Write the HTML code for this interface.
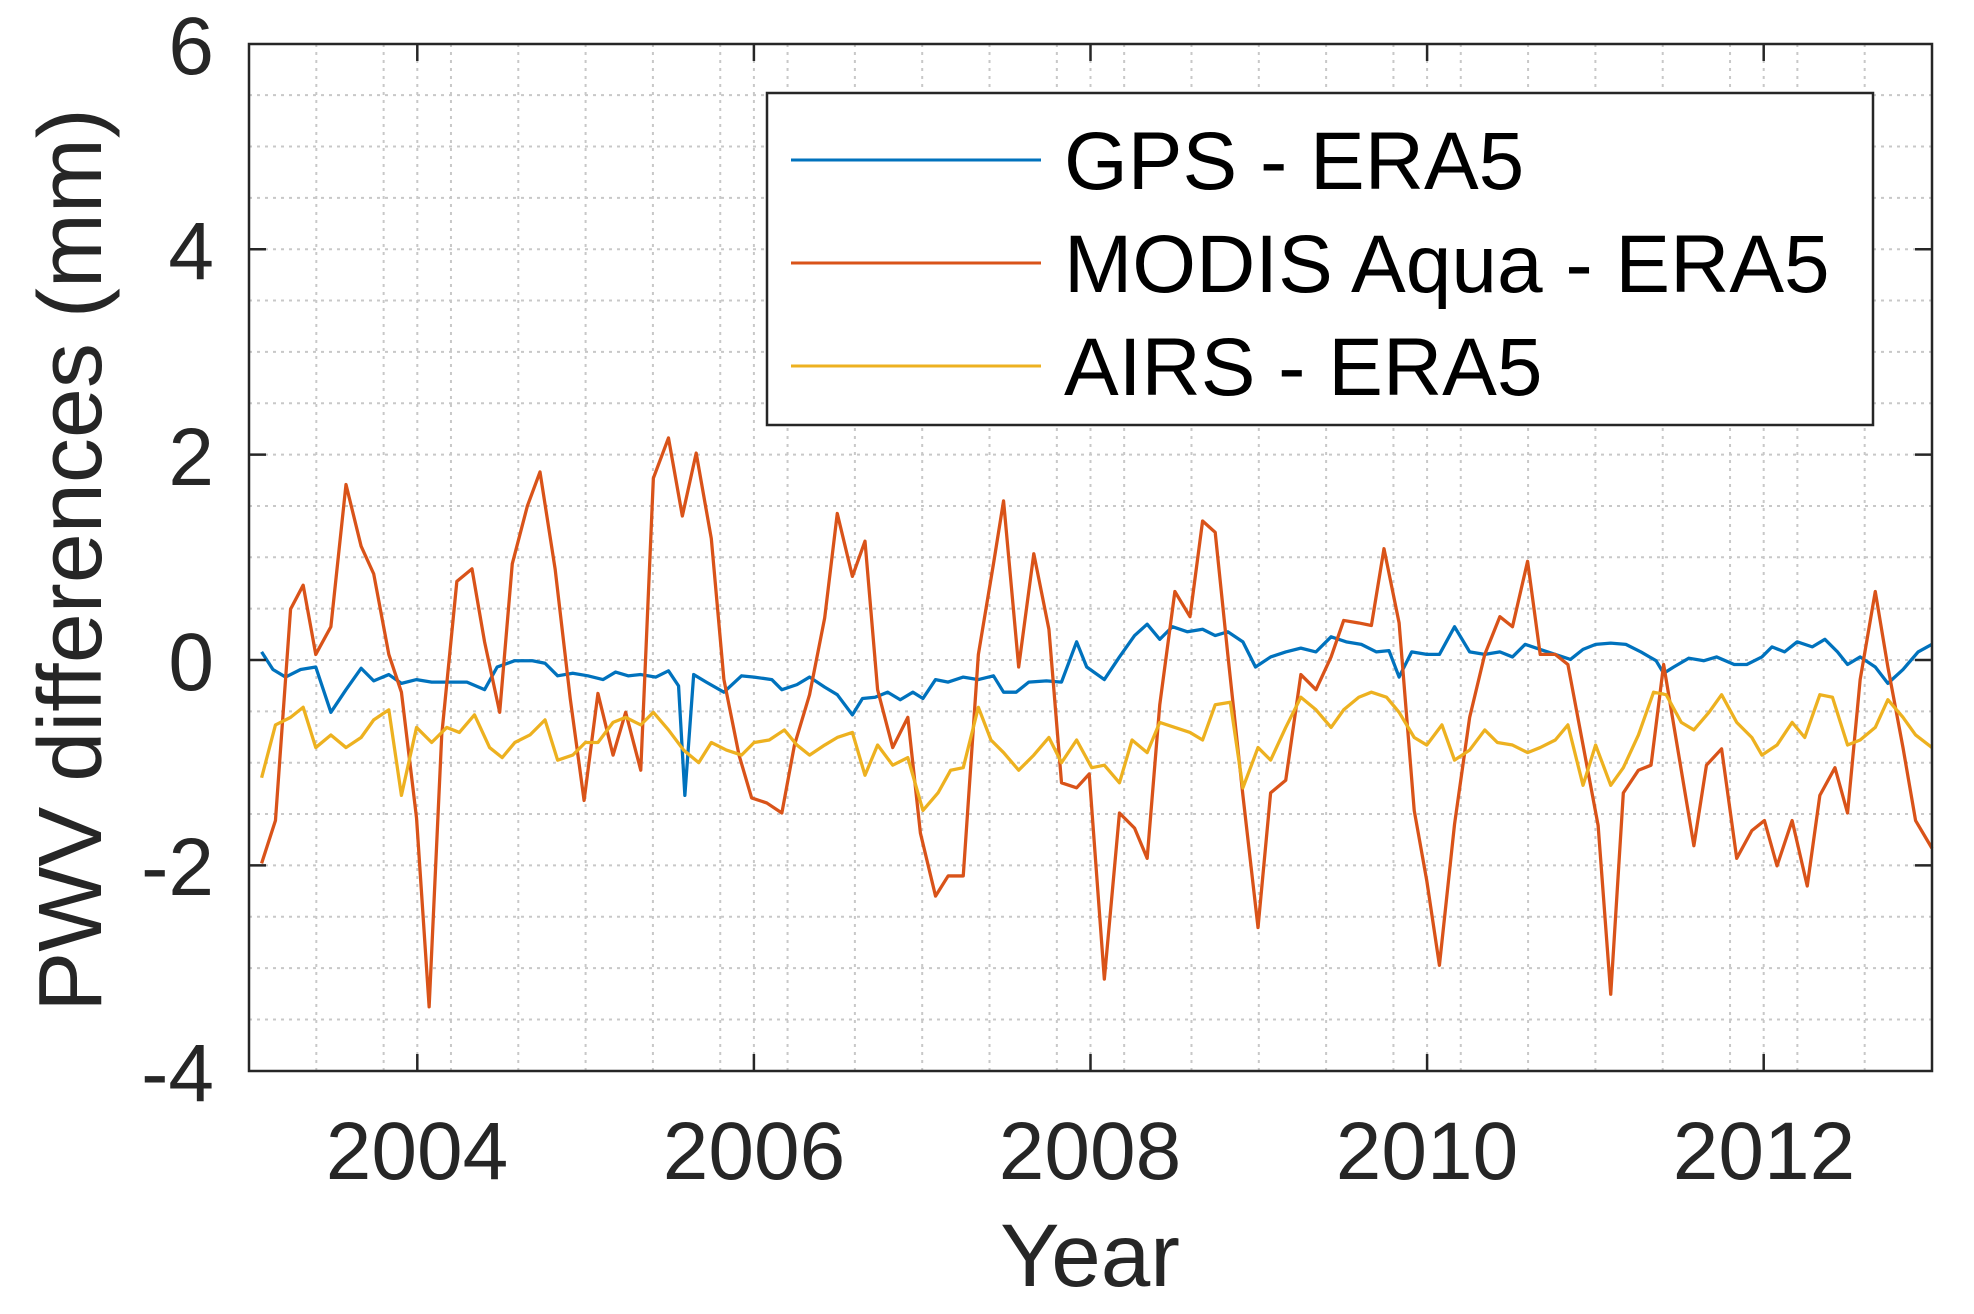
<!DOCTYPE html>
<html><head><meta charset="utf-8"><style>
html,body{margin:0;padding:0;background:#fff;}
svg{display:block;}
text{font-family:"Liberation Sans",Arial,sans-serif;fill:#262626;}
</style></head><body>
<svg width="1974" height="1314" viewBox="0 0 1974 1314" xmlns="http://www.w3.org/2000/svg">
<rect width="1974" height="1314" fill="#fff"/>
<g id="grid" stroke="#c8c8c8" stroke-width="2" stroke-dasharray="3,5" fill="none"></g>
<g id="series" transform="translate(249,44) scale(1.2597,1.2586) translate(-199,-35)" fill="none" stroke-linejoin="round" stroke-width="2.6">
<polyline stroke="#0072BD" points="209,518 218,532 228,538 240,532 252,530 264,566 276,548 288,531 298,541 310,536 320,543 332,540 344,542 356,542 372,542 386,548 396,530 410,525 424,525 434,527 444,537 456,535 468,537 480,540 490,534 500,537 510,536 522,538 532,533 540,545 545,632 552,536 562,542 576,550 590,537 600,538 614,540 622,548 634,544 644,538 656,546 666,552 678,568 686,555 696,554 706,550 716,556 726,550 734,555 744,540 754,542 766,538 778,540 790,537 798,550 808,550 818,542 832,541 844,542 856,510 864,530 878,540 890,522 902,505 912,496 922,508 932,498 944,502 956,500 966,505 976,502 988,510 998,530 1010,522 1022,518 1034,515 1046,518 1058,506 1070,510 1082,512 1094,518 1104,517 1112,538 1122,518 1134,520 1144,520 1156,498 1168,518 1180,520 1192,518 1202,522 1212,512 1224,516 1236,520 1248,524 1258,516 1268,512 1280,511 1292,512 1304,518 1316,525 1322,535 1330,530 1342,523 1354,525 1364,522 1378,528 1388,528 1400,522 1408,514 1418,518 1428,510 1440,514 1450,508 1460,518 1468,528 1478,522 1490,530 1500,543 1512,532 1524,518 1535,512"/>
<polyline stroke="#D95319" points="209,686 220,652 232,484 242,465 252,520 264,498 276,385 288,434 298,456 310,520 320,550 332,650 342,800 352,584 364,462 376,452 386,510 398,566 408,448 420,402 430,375 442,452 454,555 465,636 476,551 488,600 498,566 510,612 520,380 532,348 543,410 554,360 566,428 576,540 588,600 598,634 610,638 622,646 632,592 644,552 656,491 666,408 678,458 688,430 698,548 710,594 722,570 732,662 744,712 754,696 766,696 778,520 790,448 798,398 810,530 822,440 834,500 844,622 856,626 866,615 878,778 890,646 902,658 912,682 922,560 934,470 946,490 956,414 966,423 976,520 988,632 1000,737 1010,630 1022,620 1034,536 1046,548 1058,522 1068,493 1080,495 1090,497 1100,436 1112,495 1124,644 1134,700 1144,767 1156,655 1168,570 1180,520 1192,490 1202,498 1214,446 1224,520 1236,520 1246,528 1258,592 1270,656 1280,790 1290,630 1302,612 1312,608 1322,528 1334,600 1346,672 1356,608 1368,595 1380,682 1392,660 1402,652 1412,688 1424,652 1436,704 1446,632 1458,610 1468,646 1478,540 1490,470 1500,530 1512,594 1522,652 1535,674"/>
<polyline stroke="#EDB120" points="209,618 220,576 232,570 242,562 252,594 264,584 276,594 288,586 298,572 310,564 320,632 332,578 344,590 356,578 366,582 378,568 390,594 400,602 410,590 422,584 434,572 444,604 456,600 466,590 476,590 488,574 498,570 510,576 520,566 532,580 544,596 556,606 566,590 578,596 590,600 600,590 612,588 624,580 634,592 644,600 656,592 666,586 678,582 688,616 698,592 710,608 722,602 734,644 746,630 756,612 766,610 778,562 788,588 798,598 810,612 822,600 834,586 844,606 856,588 868,610 878,608 890,622 900,588 912,598 922,574 934,578 946,582 956,588 966,560 978,558 988,626 1000,594 1010,604 1022,578 1034,554 1046,564 1058,578 1068,564 1080,554 1090,550 1102,554 1112,566 1124,586 1134,592 1146,576 1156,604 1168,596 1180,580 1190,590 1202,592 1214,598 1224,594 1236,588 1246,576 1258,624 1268,592 1280,624 1290,610 1302,584 1314,550 1324,552 1336,574 1346,580 1358,566 1368,552 1380,574 1392,586 1400,600 1412,592 1424,574 1434,586 1446,552 1456,554 1468,592 1478,588 1490,578 1500,556 1512,570 1522,584 1535,594"/>
</g>
<g id="ticks" stroke="#262626" stroke-width="2.5"></g>
<rect x="249" y="44" width="1683" height="1027" fill="none" stroke="#262626" stroke-width="2.5"/>
<g font-size="82" text-anchor="end">
<text x="214" y="74">6</text>
<text x="214" y="279">4</text>
<text x="214" y="485">2</text>
<text x="214" y="690">0</text>
<text x="214" y="895">-2</text>
<text x="214" y="1101">-4</text>
</g>
<g font-size="82" text-anchor="middle">
<text x="417" y="1179">2004</text>
<text x="754" y="1179">2006</text>
<text x="1090" y="1179">2008</text>
<text x="1427" y="1179">2010</text>
<text x="1764" y="1179">2012</text>
<text x="1090" y="1286" font-size="89">Year</text>
<text transform="translate(101,560) rotate(-90)" font-size="90">PWV differences (mm)</text>
</g>
<rect x="767" y="93" width="1106" height="332" fill="#fff" stroke="#262626" stroke-width="2.5"/>
<line x1="791" y1="160" x2="1041" y2="160" stroke="#0072BD" stroke-width="3"/>
<line x1="791" y1="263" x2="1041" y2="263" stroke="#D95319" stroke-width="3"/>
<line x1="791" y1="366" x2="1041" y2="366" stroke="#EDB120" stroke-width="3"/>
<g font-size="82" fill="#000">
<text x="1064" y="189" style="fill:#000">GPS - ERA5</text>
<text x="1064" y="292" style="fill:#000">MODIS Aqua - ERA5</text>
<text x="1064" y="395" style="fill:#000">AIRS - ERA5</text>
</g>
<script>
var ns="http://www.w3.org/2000/svg";
var g=document.getElementById("grid"),t=document.getElementById("ticks");
function ln(p,x1,y1,x2,y2){var l=document.createElementNS(ns,"line");l.setAttribute("x1",x1);l.setAttribute("y1",y1);l.setAttribute("x2",x2);l.setAttribute("y2",y2);p.appendChild(l);}
for(var v=-3.5;v<6;v+=0.5){var y=660-v*102.7;ln(g,249,y,1932,y);}
for(var k=1;k<25;k++){var yr=2003+k*0.4;var x=249+(yr-2003)*168.3;ln(g,x,44,x,1071);}
for(var yr2=2004;yr2<=2012;yr2+=2){var x2=249+(yr2-2003)*168.3;ln(g,x2,44,x2,1071);ln(t,x2,1071,x2,1054);ln(t,x2,44,x2,61);}
for(var v2=-2;v2<=4;v2+=2){var y2=660-v2*102.7;ln(t,249,y2,266,y2);ln(t,1932,y2,1915,y2);}
</script>
</svg>
</body></html>
